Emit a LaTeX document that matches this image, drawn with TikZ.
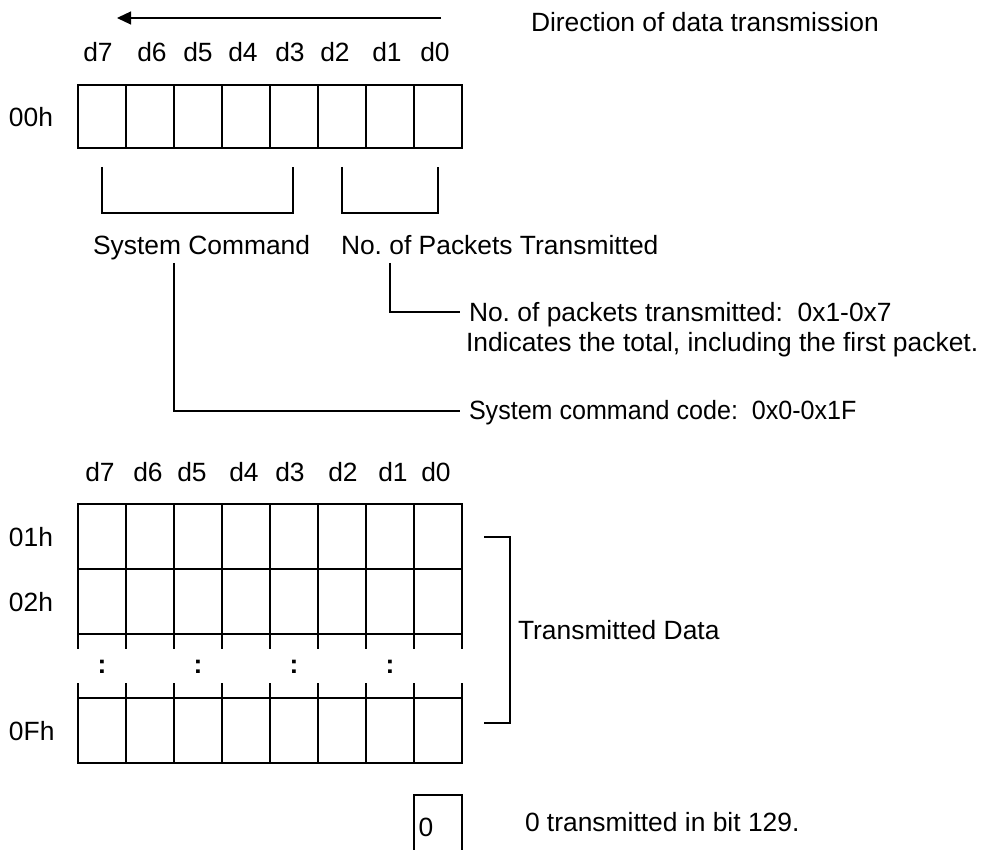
\documentclass[tikz,border=0pt]{standalone}
\usepackage{fontspec}
\setmainfont{Liberation Sans}
\usetikzlibrary{arrows.meta}
\frenchspacing
\begin{document}
\begin{tikzpicture}[x=0.5pt,y=-0.5pt,
  txt/.style={font=\fontsize{13.2}{16}\selectfont, inner sep=0pt, outer sep=0pt},
  cellA/.style={draw, line width=1pt, rectangle, inner sep=0pt, outer sep=0pt, minimum width=24pt, minimum height=31.5pt, anchor=north west},
  cellB/.style={draw, line width=1pt, rectangle, inner sep=0pt, outer sep=0pt, minimum width=24pt, minimum height=32.5pt, anchor=north west},
  brk/.style={line width=1pt},
  lead/.style={line width=0.9pt},
  arr/.style={line width=0.6pt, -{Triangle[length=7pt,width=6.5pt]}}]
\useasboundingbox (0,0) rectangle (981,850);

% direction arrow
\coordinate (arrS) at (441,18);
\coordinate (arrE) at (117,18);
\draw[arr] (arrS) -- (arrE);
\node[txt, anchor=base west] (dir) at (531,32) {Direction of data transmission};

% top bit labels
\foreach \lbl/\xx [count=\i] in {d7/98,d6/152,d5/198,d4/243,d3/290,d2/335,d1/387,d0/435}
  \node[txt, anchor=base] (tl\i) at (\xx,62) {\lbl};

% top row
\foreach \i in {0,...,7}
  \node[cellA] (t\i) at (78+48*\i,85) {};
\node[txt, anchor=west] (h00) at (9,117) {00h};

% brackets under the top row
\draw[brk] (102,167) -- (102,213) -- (293,213) -- (293,167);
\draw[brk] (342,167) -- (342,213) -- (438,213) -- (438,167);

\node[txt, anchor=base west] (sc) at (93,255) {System Command};
\node[txt, anchor=base west] (np) at (341,255) {No. of Packets Transmitted};

% leaders
\coordinate (npA) at (390,263);
\coordinate (npB) at (390,312);
\coordinate (npC) at (460,312);
\draw[lead] (npA) -- (npB) -- (npC);
\node[txt, anchor=base west] (npd1) at (469,322) {No. of packets transmitted:\ \ 0x1-0x7};
\node[txt, anchor=base west] (npd2) at (466,352) {Indicates the total, including the first packet.};

\coordinate (scA) at (174,263);
\coordinate (scB) at (174,411);
\coordinate (scC) at (460,411);
\draw[lead] (scA) -- (scB) -- (scC);
\node[txt, anchor=base west] (scd) at (469,420) {\scalebox{0.95}[1]{System command code:\ \ 0x0-0x1F}};

% lower bit labels
\foreach \lbl/\xx [count=\i] in {d7/100,d6/148,d5/192,d4/244,d3/290,d2/343,d1/393,d0/436}
  \node[txt, anchor=base] (bl\i) at (\xx,481) {\lbl};

% lower grid
\foreach \i in {0,...,7} {
  \node[cellB] (a\i) at (78+48*\i,504) {};
  \node[cellB] (b\i) at (78+48*\i,569) {};
  \node[cellB] (f\i) at (78+48*\i,698) {};
}
\foreach \i in {0,...,8} {
  \draw[line width=1pt] (78+48*\i,634) -- (78+48*\i,649);
  \draw[line width=1pt] (78+48*\i,683) -- (78+48*\i,698);
}
\foreach \i in {0,2,4,6}
  \node[txt, anchor=center] (dots\i) at (102+48*\i,667) {\textbf{:}};

\node[txt, anchor=west] (h01) at (9,537) {01h};
\node[txt, anchor=west] (h02) at (9,602) {02h};
\node[txt, anchor=west] (h0F) at (9,731) {0Fh};

% bracket for transmitted data
\draw[brk] (484,537) -- (510,537) -- (510,723) -- (484,723);
\node[txt, anchor=base west] (td) at (518,639) {Transmitted Data};

% bit 129 box
\draw[line width=1pt] (414,856) -- (414,795) -- (462,795) -- (462,856);
\node[txt, anchor=base] (zero) at (426,836) {0};
\node[txt, anchor=base west] (zt) at (525,831) {0 transmitted in bit 129.};
\end{tikzpicture}
\end{document}
